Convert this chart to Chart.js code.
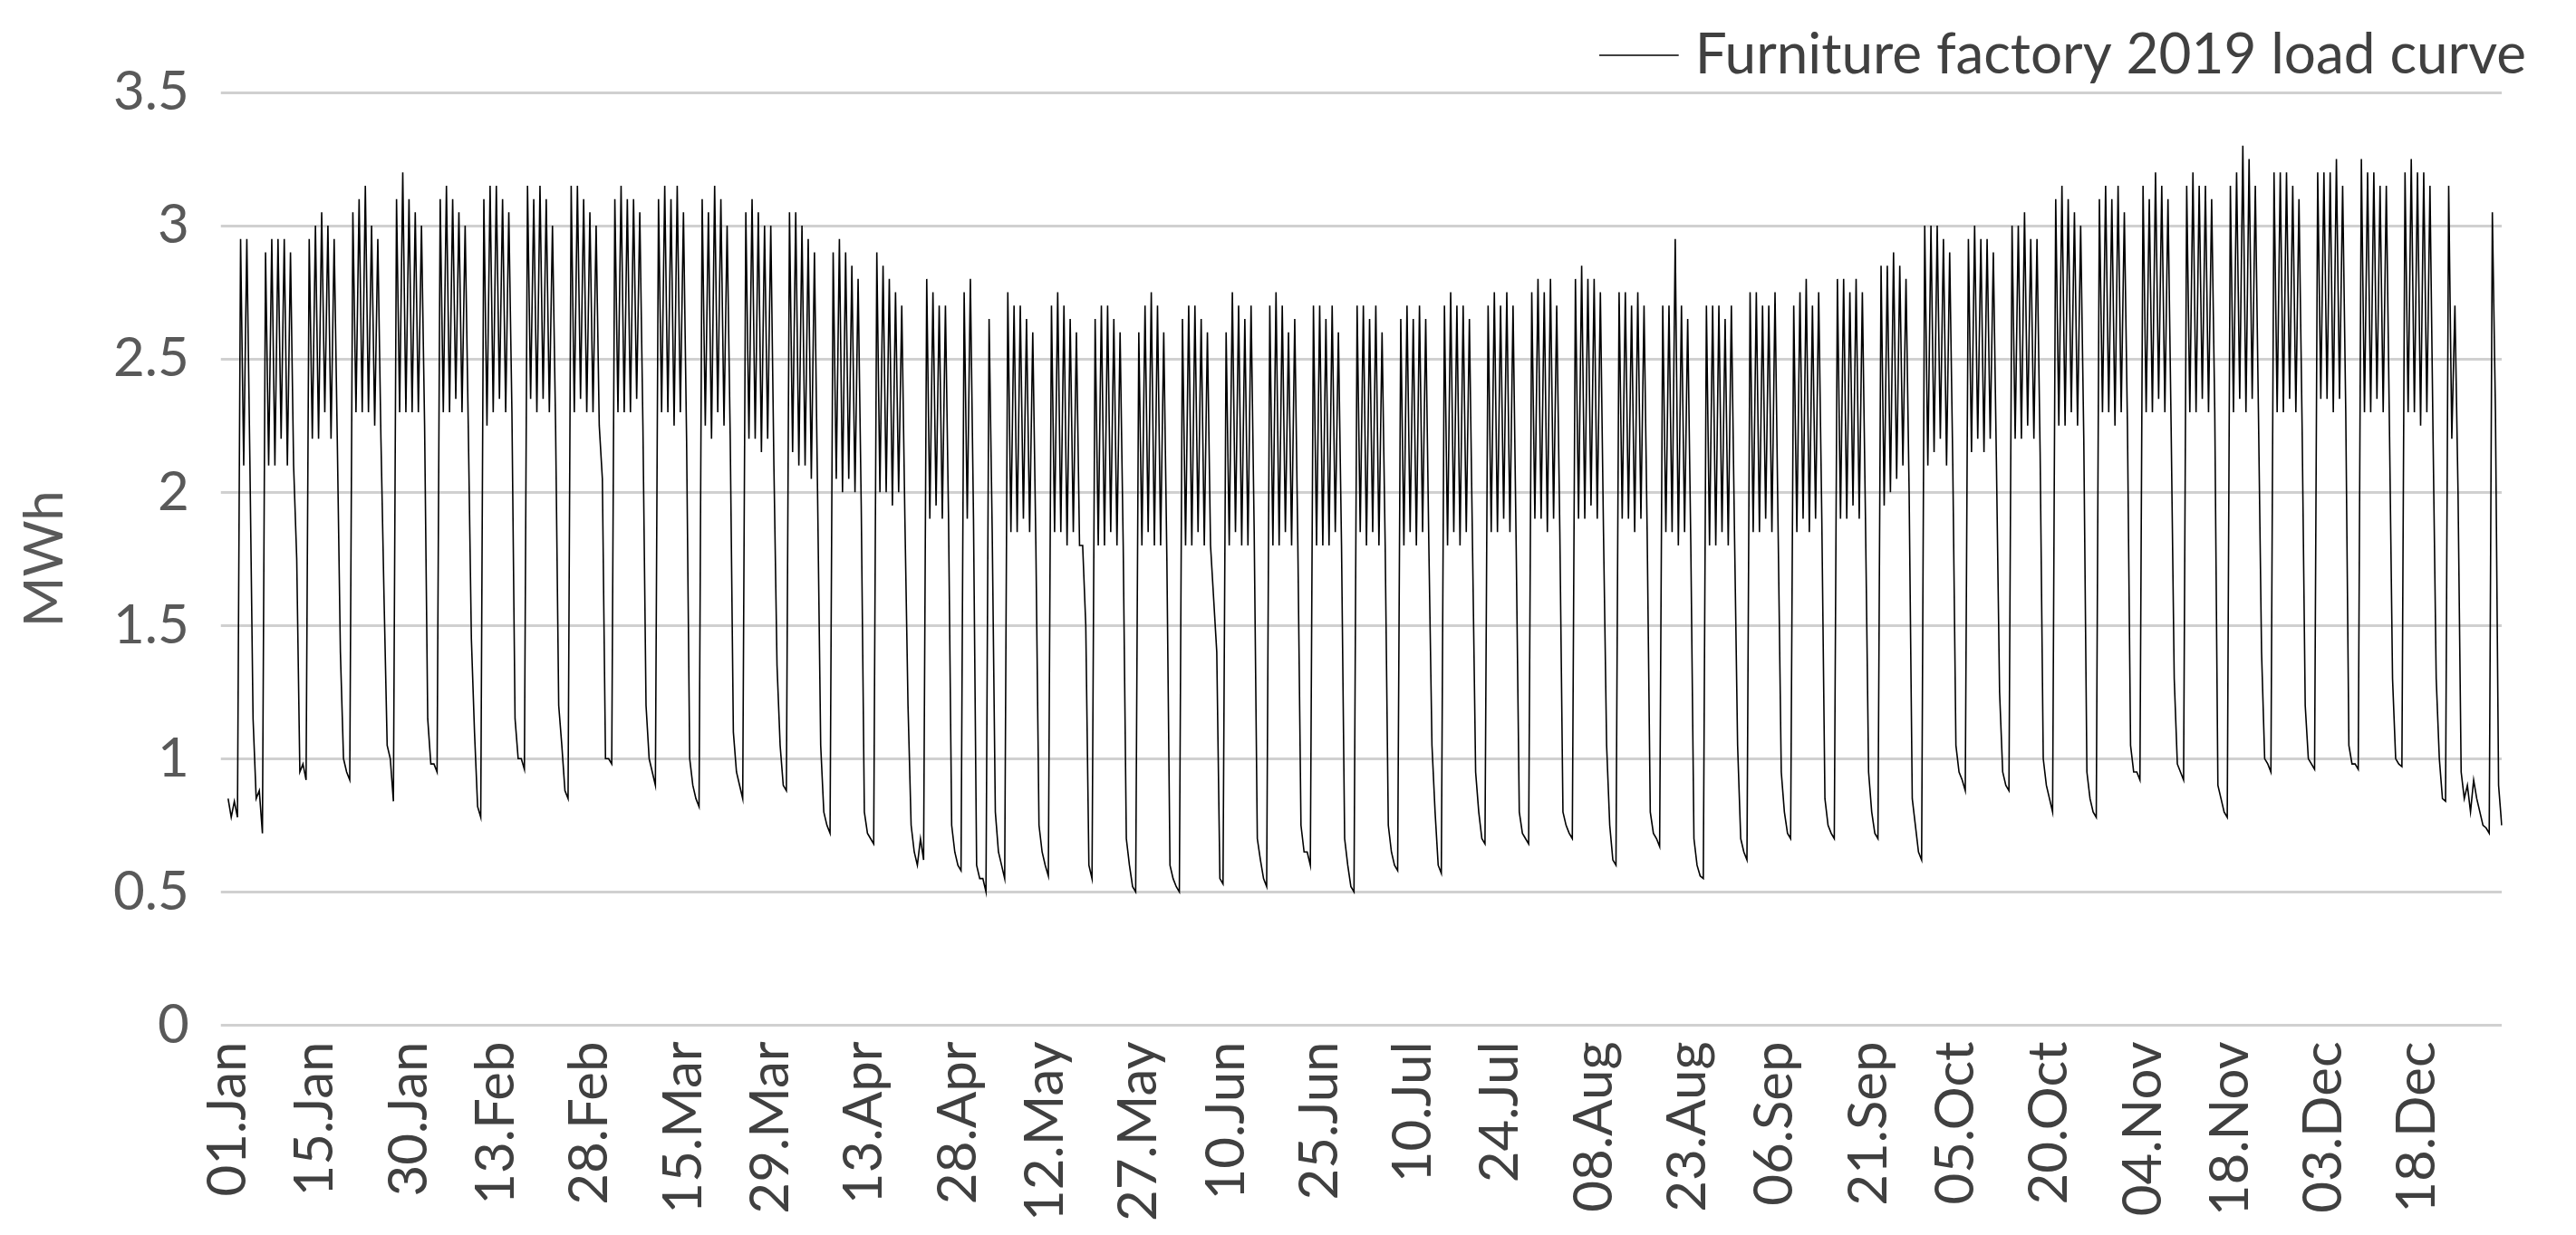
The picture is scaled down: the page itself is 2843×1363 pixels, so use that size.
<!DOCTYPE html>
<html><head><meta charset="utf-8">
<script src="https://cdn.jsdelivr.net/npm/chart.js@4/dist/chart.umd.min.js"></script>
<style>html,body{margin:0;padding:0;background:#fff}#w{width:2843px;height:1363px}</style>
</head><body><div id="w"><canvas id="c"></canvas></div>
<script>
// Weekly rows (Tue..Mon), starting 01.Jan 2019; daily high and daily low readings (MWh)
const dailyHigh = [
[0.85,0.84,2.95,2.95,1.15,0.88,2.9],[2.95,2.95,2.95,2.9,1.75,0.98,2.95],[3.0,3.05,3.0,2.95,1.4,0.95,3.05],
[3.1,3.15,3.0,2.95,1.6,1.0,3.1],[3.2,3.1,3.05,3.0,1.15,0.98,3.1],[3.15,3.1,3.05,3.0,1.45,0.82,3.1],
[3.15,3.15,3.1,3.05,1.15,1.0,3.15],[3.1,3.15,3.1,3.0,1.2,0.88,3.15],[3.15,3.1,3.05,3.0,2.05,1.0,3.1],
[3.15,3.1,3.1,3.05,1.2,0.95,3.1],[3.15,3.1,3.15,3.05,1.0,0.85,3.1],[3.05,3.15,3.1,3.0,1.1,0.9,3.05],
[3.1,3.05,3.0,3.0,1.35,0.9,3.05],[3.05,3.0,2.95,2.9,1.05,0.75,2.9],[2.95,2.9,2.85,2.8,0.8,0.7,2.9],
[2.85,2.8,2.75,2.7,1.2,0.65,0.7],[2.8,2.75,2.7,2.7,0.75,0.6,2.75],[2.8,0.6,0.55,2.65,0.8,0.6,2.75],
[2.7,2.7,2.65,2.6,0.75,0.6,2.7],[2.75,2.7,2.65,2.6,1.8,0.6,2.65],[2.7,2.7,2.65,2.6,0.7,0.52,2.6],
[2.7,2.75,2.7,2.6,0.6,0.52,2.65],[2.7,2.7,2.65,2.6,1.6,0.55,2.6],[2.75,2.7,2.65,2.7,0.7,0.55,2.7],
[2.75,2.7,2.6,2.65,0.75,0.65,2.7],[2.7,2.65,2.7,2.6,0.7,0.52,2.7],[2.7,2.65,2.7,2.6,0.75,0.6,2.65],
[2.7,2.65,2.7,2.65,1.05,0.6,2.7],[2.75,2.7,2.7,2.65,0.95,0.7,2.7],[2.75,2.7,2.75,2.7,0.8,0.7,2.75],
[2.8,2.75,2.8,2.7,0.8,0.72,2.8],[2.85,2.8,2.8,2.75,1.05,0.62,2.75],[2.75,2.7,2.75,2.7,0.8,0.7,2.7],
[2.7,2.95,2.7,2.65,0.7,0.56,2.7],[2.7,2.7,2.65,2.7,1.05,0.65,2.75],[2.75,2.7,2.7,2.75,0.95,0.72,2.7],
[2.75,2.8,2.7,2.75,0.85,0.72,2.8],[2.8,2.75,2.8,2.75,0.95,0.72,2.85],[2.85,2.9,2.85,2.8,0.85,0.65,3.0],
[3.0,3.0,2.95,2.9,1.05,0.92,2.95],[3.0,2.95,2.95,2.9,1.25,0.9,3.0],[3.0,3.05,2.95,2.95,1.0,0.85,3.1],
[3.15,3.1,3.05,3.0,0.95,0.8,3.1],[3.15,3.1,3.15,3.05,1.05,0.95,3.15],[3.1,3.2,3.15,3.1,1.3,0.95,3.15],
[3.2,3.15,3.15,3.1,0.9,0.8,3.15],[3.2,3.3,3.25,3.15,1.4,0.98,3.2],[3.2,3.2,3.15,3.1,1.2,0.98,3.2],
[3.2,3.2,3.25,3.15,1.05,0.98,3.25],[3.2,3.2,3.15,3.15,1.3,0.98,3.2],[3.25,3.2,3.2,3.15,1.3,0.85,3.15],
[2.7,0.95,0.9,0.92,0.8,0.74,3.05],[0.9]];
const dailyLow = [
[0.78,0.78,2.1,2.1,0.85,0.72,2.1],[2.1,2.2,2.1,2.1,0.95,0.92,2.2],[2.2,2.3,2.2,2.2,1.0,0.92,2.3],
[2.3,2.3,2.25,2.2,1.05,0.84,2.3],[2.3,2.3,2.3,2.25,0.98,0.95,2.3],[2.3,2.35,2.3,2.25,1.1,0.78,2.25],
[2.3,2.35,2.3,2.3,1.0,0.96,2.35],[2.3,2.35,2.3,2.25,1.05,0.85,2.3],[2.35,2.3,2.3,2.25,1.0,0.98,2.3],
[2.3,2.3,2.35,2.25,1.0,0.9,2.3],[2.3,2.25,2.3,2.2,0.9,0.82,2.25],[2.2,2.3,2.25,2.2,0.95,0.85,2.2],
[2.2,2.15,2.2,2.1,1.05,0.88,2.15],[2.1,2.1,2.05,2.0,0.8,0.72,2.05],[2.0,2.05,2.0,1.95,0.72,0.68,2.0],
[2.0,1.95,2.0,1.9,0.75,0.6,0.62],[1.9,1.95,1.9,1.9,0.65,0.58,1.9],[1.9,0.55,0.5,1.85,0.65,0.55,1.85],
[1.85,1.9,1.85,1.8,0.65,0.56,1.85],[1.85,1.8,1.85,1.8,1.5,0.55,1.8],[1.8,1.85,1.8,1.8,0.6,0.5,1.8],
[1.85,1.8,1.8,1.75,0.55,0.5,1.8],[1.8,1.85,1.8,1.8,1.4,0.53,1.8],[1.85,1.8,1.8,1.85,0.62,0.52,1.8],
[1.8,1.85,1.8,1.8,0.65,0.6,1.8],[1.8,1.8,1.85,1.8,0.6,0.5,1.85],[1.8,1.85,1.8,1.8,0.65,0.58,1.8],
[1.85,1.8,1.85,1.8,0.8,0.57,1.8],[1.85,1.8,1.85,1.8,0.8,0.68,1.85],[1.85,1.9,1.85,1.8,0.72,0.68,1.9],
[1.9,1.85,1.9,1.85,0.75,0.7,1.9],[1.9,1.95,1.9,1.85,0.75,0.6,1.9],[1.9,1.85,1.9,1.85,0.72,0.67,1.85],
[1.85,1.8,1.85,1.8,0.6,0.55,1.8],[1.8,1.85,1.8,1.85,0.7,0.62,1.85],[1.85,1.9,1.85,1.85,0.8,0.7,1.85],
[1.9,1.85,1.9,1.9,0.75,0.7,1.9],[1.9,1.95,1.9,1.9,0.8,0.7,1.95],[2.0,2.05,2.1,2.0,0.75,0.62,2.1],
[2.15,2.2,2.1,2.1,0.95,0.88,2.15],[2.2,2.15,2.2,2.1,0.95,0.88,2.2],[2.2,2.25,2.2,2.15,0.9,0.8,2.25],
[2.25,2.3,2.25,2.2,0.85,0.78,2.3],[2.3,2.25,2.3,2.25,0.95,0.92,2.3],[2.3,2.35,2.3,2.25,0.98,0.92,2.3],
[2.3,2.35,2.3,2.3,0.85,0.78,2.3],[2.35,2.3,2.35,2.3,1.0,0.95,2.3],[2.3,2.35,2.3,2.25,1.0,0.96,2.35],
[2.35,2.3,2.35,2.3,0.98,0.96,2.3],[2.3,2.35,2.3,2.25,1.0,0.97,2.3],[2.3,2.25,2.3,2.2,1.0,0.84,2.2],
[2.0,0.85,0.8,0.85,0.75,0.72,2.3],[0.75]];
const tickLabels = ["01.Jan","15.Jan","30.Jan","13.Feb","28.Feb","15.Mar","29.Mar","13.Apr","28.Apr","12.May","27.May","10.Jun","25.Jun","10.Jul","24.Jul","08.Aug","23.Aug","06.Sep","21.Sep","05.Oct","20.Oct","04.Nov","18.Nov","03.Dec","18.Dec"];
const yTicks = [0,0.5,1,1.5,2,2.5,3,3.5];
const seriesName = "Furniture factory 2019 load curve";

const months=["Jan","Feb","Mar","Apr","May","Jun","Jul","Aug","Sep","Oct","Nov","Dec"];
const his=dailyHigh.flat(), los=dailyLow.flat();
const labels=[], values=[];
his.forEach((h,d)=>{
  const dt=new Date(Date.UTC(2019,0,1+d));
  const s=String(dt.getUTCDate()).padStart(2,'0')+"."+months[dt.getUTCMonth()];
  labels.push(s,s); values.push(h,los[d]);
});
const shown=new Set(tickLabels);
const font="Lato";
new Chart(document.getElementById('c'),{
  type:'line',
  data:{labels,datasets:[{label:seriesName,data:values,borderColor:'#000',borderWidth:1.6,pointRadius:0,tension:0,fill:false}]},
  options:{responsive:true,maintainAspectRatio:false,animation:false,
    layout:{padding:{left:10,right:35,top:10,bottom:5}},
    plugins:{legend:{align:'end',labels:{usePointStyle:true,pointStyle:'line',boxWidth:140,color:'#404040',font:{family:font,size:62},padding:20}},tooltip:{enabled:false}},
    scales:{
      x:{offset:false,grid:{display:false},border:{display:false},
        ticks:{autoSkip:false,maxRotation:90,minRotation:90,color:'#404040',font:{family:font,size:60},padding:10,
          callback:function(v,i){const l=labels[i];return (i%2===0&&shown.has(l)&&(i===0||labels[i-2]!==l))?l:'';}}},
      y:{min:0,max:3.5,afterBuildTicks:a=>{a.ticks=yTicks.map(v=>({value:v}));},
        grid:{color:'#d0d0d0',lineWidth:3},border:{display:false},
        ticks:{color:'#595959',font:{family:font,size:60},padding:35,callback:v=>String(v)},
        title:{display:true,text:'MWh',color:'#595959',font:{family:font,size:60}}}
    }}
});
</script></body></html>
